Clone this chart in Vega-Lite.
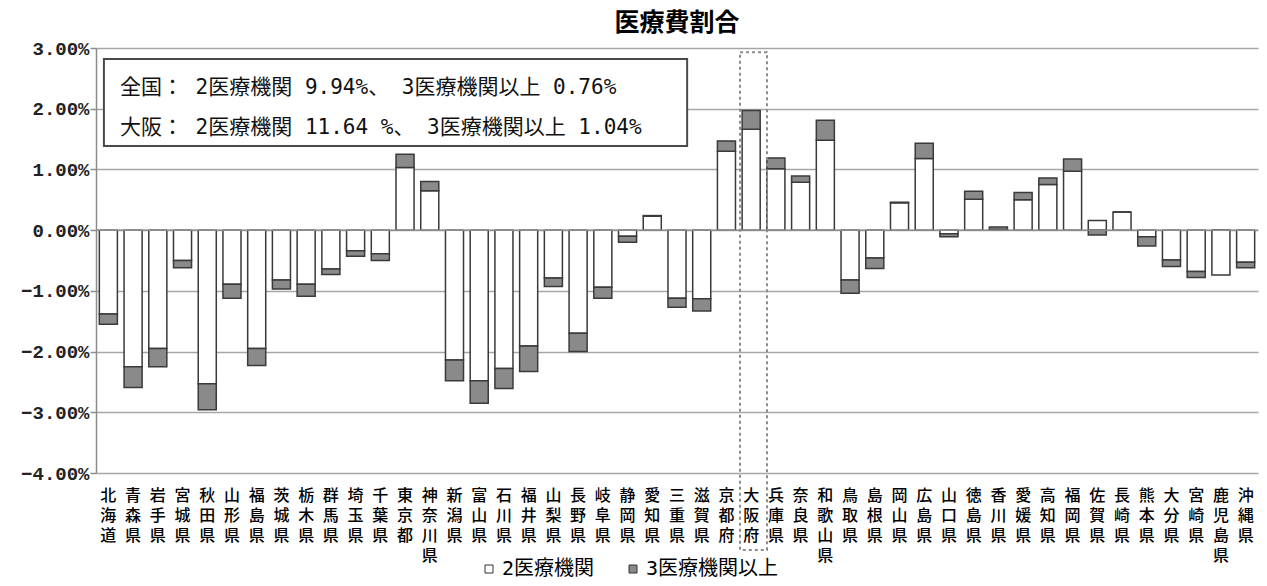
{
  "$schema": "https://vega.github.io/schema/vega-lite/v6.json",
  "width": 1162,
  "height": 425,
  "autosize": "none",
  "padding": {"left": 96, "top": 48, "right": 9, "bottom": 113},
  "background": "white",
  "title": {"text": "医療費割合", "font": "Noto Sans CJK JP", "fontSize": 25, "fontWeight": "bold", "color": "#000000", "offset": 3},
  "datasets": {
    "pref": [
      {"pref": "北海道", "2医療機関": -0.0138, "3医療機関以上": -0.0017},
      {"pref": "青森県", "2医療機関": -0.0225, "3医療機関以上": -0.0034},
      {"pref": "岩手県", "2医療機関": -0.0195, "3医療機関以上": -0.0030},
      {"pref": "宮城県", "2医療機関": -0.0050, "3医療機関以上": -0.0012},
      {"pref": "秋田県", "2医療機関": -0.0253, "3医療機関以上": -0.0043},
      {"pref": "山形県", "2医療機関": -0.0089, "3医療機関以上": -0.0023},
      {"pref": "福島県", "2医療機関": -0.0195, "3医療機関以上": -0.0028},
      {"pref": "茨城県", "2医療機関": -0.0082, "3医療機関以上": -0.0015},
      {"pref": "栃木県", "2医療機関": -0.0089, "3医療機関以上": -0.0020},
      {"pref": "群馬県", "2医療機関": -0.0064, "3医療機関以上": -0.0009},
      {"pref": "埼玉県", "2医療機関": -0.0034, "3医療機関以上": -0.0009},
      {"pref": "千葉県", "2医療機関": -0.0039, "3医療機関以上": -0.0011},
      {"pref": "東京都", "2医療機関": 0.0103, "3医療機関以上": 0.0022},
      {"pref": "神奈川県", "2医療機関": 0.0065, "3医療機関以上": 0.0015},
      {"pref": "新潟県", "2医療機関": -0.0214, "3医療機関以上": -0.0034},
      {"pref": "富山県", "2医療機関": -0.0248, "3医療機関以上": -0.0037},
      {"pref": "石川県", "2医療機関": -0.0228, "3医療機関以上": -0.0033},
      {"pref": "福井県", "2医療機関": -0.0191, "3医療機関以上": -0.0042},
      {"pref": "山梨県", "2医療機関": -0.0079, "3医療機関以上": -0.0014},
      {"pref": "長野県", "2医療機関": -0.0170, "3医療機関以上": -0.0030},
      {"pref": "岐阜県", "2医療機関": -0.0094, "3医療機関以上": -0.0018},
      {"pref": "静岡県", "2医療機関": -0.0010, "3医療機関以上": -0.0010},
      {"pref": "愛知県", "2医療機関": 0.0023, "3医療機関以上": 0.0001},
      {"pref": "三重県", "2医療機関": -0.0112, "3医療機関以上": -0.0015},
      {"pref": "滋賀県", "2医療機関": -0.0113, "3医療機関以上": -0.0020},
      {"pref": "京都府", "2医療機関": 0.0130, "3医療機関以上": 0.0017},
      {"pref": "大阪府", "2医療機関": 0.0166, "3医療機関以上": 0.0031},
      {"pref": "兵庫県", "2医療機関": 0.0101, "3医療機関以上": 0.0018},
      {"pref": "奈良県", "2医療機関": 0.0079, "3医療機関以上": 0.0010},
      {"pref": "和歌山県", "2医療機関": 0.0148, "3医療機関以上": 0.0033},
      {"pref": "鳥取県", "2医療機関": -0.0082, "3医療機関以上": -0.0022},
      {"pref": "島根県", "2医療機関": -0.0046, "3医療機関以上": -0.0017},
      {"pref": "岡山県", "2医療機関": 0.0045, "3医療機関以上": 0.0001},
      {"pref": "広島県", "2医療機関": 0.0118, "3医療機関以上": 0.0025},
      {"pref": "山口県", "2医療機関": -0.0006, "3医療機関以上": -0.0005},
      {"pref": "徳島県", "2医療機関": 0.0051, "3医療機関以上": 0.0013},
      {"pref": "香川県", "2医療機関": 0.0001, "3医療機関以上": 0.0004},
      {"pref": "愛媛県", "2医療機関": 0.0050, "3医療機関以上": 0.0012},
      {"pref": "高知県", "2医療機関": 0.0075, "3医療機関以上": 0.0011},
      {"pref": "福岡県", "2医療機関": 0.0097, "3医療機関以上": 0.0020},
      {"pref": "佐賀県", "2医療機関": 0.0016, "3医療機関以上": -0.0008},
      {"pref": "長崎県", "2医療機関": 0.0030, "3医療機関以上": 0.0000},
      {"pref": "熊本県", "2医療機関": -0.0011, "3医療機関以上": -0.0015},
      {"pref": "大分県", "2医療機関": -0.0049, "3医療機関以上": -0.0011},
      {"pref": "宮崎県", "2医療機関": -0.0068, "3医療機関以上": -0.0010},
      {"pref": "鹿児島県", "2医療機関": -0.0074, "3医療機関以上": 0.0000},
      {"pref": "沖縄県", "2医療機関": -0.0053, "3医療機関以上": -0.0009}
    ],
    "box": [{"x": 0.32, "x2": 23.91, "y": 0.0282, "y2": 0.01385}],
    "notes": [
      {"x": 0.97, "y": 0.0234, "text": "全国： 2医療機関 9.94%、 3医療機関以上 0.76%"},
      {"x": 0.97, "y": 0.0168, "text": "大阪： 2医療機関 11.64 %、 3医療機関以上 1.04%"}
    ],
    "focus": [{"x": 26.05, "x2": 27.14, "y": 0.0293, "y2": -0.0527}],
    "zero": [{"v": 0}]
  },
  "layer": [
    {
      "data": {"name": "pref"},
      "transform": [{"fold": ["2医療機関", "3医療機関以上"], "as": ["series", "value"]}],
      "mark": {"type": "bar", "stroke": "#3a3a3a", "strokeWidth": 1.5},
      "encoding": {
        "x": {
          "field": "pref", "type": "nominal", "sort": null, "title": null,
          "scale": {"paddingInner": 0.27, "paddingOuter": 0.135},
          "axis": {
            "orient": "bottom", "labelAngle": 0, "domain": false, "ticks": false,
            "labelExpr": "split(datum.label, '')", "labelBaseline": "top",
            "labelLineHeight": 20, "labelPadding": 14, "labelFont": "Noto Sans CJK JP",
            "labelFontSize": 16, "labelFontWeight": 500, "labelColor": "#000000", "labelOverlap": false, "labelBound": false
          }
        },
        "y": {
          "field": "value", "type": "quantitative", "stack": "zero", "title": null,
          "scale": {"domain": [-0.04, 0.03], "nice": false, "zero": false},
          "axis": {
            "values": [-0.04, -0.03, -0.02, -0.01, 0, 0.01, 0.02, 0.03], "format": ".2%",
            "grid": true, "gridColor": "#a6a6a6", "gridWidth": 1.5,
            "domainColor": "#8c8c8c", "domainWidth": 1.5, "tickColor": "#8c8c8c", "tickSize": 6, "tickWidth": 1.5,
            "labelFont": "Liberation Mono", "labelFontSize": 19, "labelFontWeight": "bold", "labelColor": "#222222", "labelPadding": 1
          }
        },
        "color": {
          "field": "series", "type": "nominal", "title": null,
          "scale": {"domain": ["2医療機関", "3医療機関以上"], "range": ["#ffffff", "#8a8a8a"]},
          "legend": {
            "orient": "none", "legendX": 383, "legendY": 511, "direction": "horizontal",
            "symbolType": "square", "symbolSize": 64, "symbolStrokeColor": "#333333", "symbolStrokeWidth": 1,
            "labelFont": "DejaVu Sans Mono, Noto Sans CJK JP", "labelFontSize": 20, "labelColor": "#000000", "labelOffset": 3,
            "columnPadding": 28, "symbolOffset": 0
          }
        },
        "order": {"field": "series", "sort": "ascending"}
      }
    },
    {
      "data": {"name": "zero"},
      "mark": {"type": "rule", "color": "#8c8c8c", "strokeWidth": 1.5},
      "encoding": {"y": {"field": "v", "type": "quantitative"}}
    },
    {
      "data": {"name": "box"},
      "mark": {"type": "rect", "fill": "#ffffff", "stroke": "#4a4a4a", "strokeWidth": 2},
      "encoding": {
        "x": {"field": "x", "type": "quantitative", "scale": {"domain": [0, 47], "nice": false, "zero": false}, "axis": null},
        "x2": {"field": "x2"},
        "y": {"field": "y", "type": "quantitative"},
        "y2": {"field": "y2"}
      }
    },
    {
      "data": {"name": "notes"},
      "mark": {"type": "text", "align": "left", "baseline": "middle", "font": "DejaVu Sans Mono, Noto Sans CJK JP", "fontSize": 21, "color": "#111111"},
      "encoding": {
        "x": {"field": "x", "type": "quantitative", "scale": {"domain": [0, 47], "nice": false, "zero": false}, "axis": null},
        "y": {"field": "y", "type": "quantitative"},
        "text": {"field": "text"}
      }
    },
    {
      "data": {"name": "focus"},
      "mark": {"type": "rect", "fill": null, "fillOpacity": 0, "stroke": "#8c8c8c", "strokeWidth": 2, "strokeDash": [3, 3], "clip": false},
      "encoding": {
        "x": {"field": "x", "type": "quantitative", "scale": {"domain": [0, 47], "nice": false, "zero": false}, "axis": null},
        "x2": {"field": "x2"},
        "y": {"field": "y", "type": "quantitative"},
        "y2": {"field": "y2"}
      }
    }
  ],
  "resolve": {"scale": {"x": "independent"}, "axis": {"x": "independent"}},
  "config": {"view": {"stroke": null}}
}
